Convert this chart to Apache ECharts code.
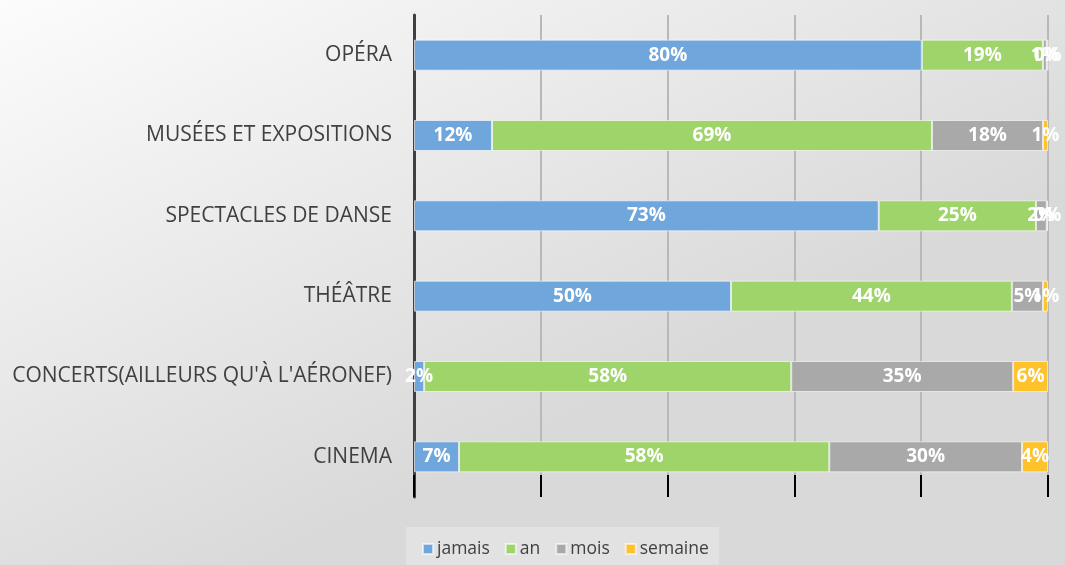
<!DOCTYPE html>
<html>
<head>
<meta charset="utf-8">
<script src="https://cdn.jsdelivr.net/npm/echarts@6/dist/echarts.min.js"></script>
<style>
html,body{margin:0;padding:0;}
#main{width:1065px;height:565px;}
</style>
</head>
<body>
<div id="main"></div>
<script>
// pratiques culturelles - part en % (du bas vers le haut)
var categories = ['CINEMA', "CONCERTS(AILLEURS QU'À L'AÉRONEF)", 'THÉÂTRE', 'SPECTACLES DE DANSE', 'MUSÉES ET EXPOSITIONS', 'OPÉRA'];
var jamais  = [7.1, 1.6, 50.0, 73.3, 12.3, 80.1];
var an      = [58.4, 57.9, 44.3, 24.8, 69.4, 19.1];
var mois    = [30.4, 35.0, 4.9, 1.7, 17.5, 0.6];
var semaine = [4.1, 5.5, 0.8, 0.2, 0.8, 0.3];
var seriesNames = ['jamais', 'an', 'mois', 'semaine'];
var colors = ['#6fa6db', '#9fd46a', '#a9a9a9', '#fec22b'];

var myChart = echarts.init(document.getElementById('main'));

function serie(name, data) {
    return {
        name: name,
        type: 'bar',
        stack: 'total',
        barWidth: 31,
        data: data,
        itemStyle: {borderColor: 'rgba(255,255,255,0.6)', borderWidth: 1},
        label: {
            show: true,
            position: 'inside',
            color: '#fff',
            fontSize: 19,
            fontWeight: 'bold',
            fontFamily: 'Open Sans',
            formatter: function (p) { return Math.round(p.value) + '%'; }
        }
    };
}

var option = {
    backgroundColor: {
        type: 'linear', x: 0, y: 0, x2: 0.25, y2: 1,
        colorStops: [{offset: 0, color: '#fcfcfc'}, {offset: 1, color: '#d9d9d9'}]
    },
    color: colors,
    grid: {left: 414, right: 17, top: 15, bottom: 68},
    legend: {
        data: seriesNames,
        left: 406,
        top: 527,
        padding: [13, 10, 14, 16],
        backgroundColor: 'rgba(255,255,255,0.25)',
        itemWidth: 10,
        itemHeight: 10,
        itemGap: 15,
        icon: 'rect',
        textStyle: {fontSize: 17.5, color: '#404040', fontFamily: 'Open Sans', padding: [0, 0, 0, -1]}
    },
    xAxis: {
        type: 'value',
        min: 0, max: 100, interval: 20,
        axisLine: {show: false},
        axisTick: {show: true, inside: true, length: 22, lineStyle: {color: '#000', width: 2}},
        axisLabel: {show: false},
        splitLine: {show: true, lineStyle: {color: '#b8b8b8', width: 2}}
    },
    yAxis: {
        type: 'category',
        data: categories,
        axisLine: {show: true, lineStyle: {color: '#404040', width: 3}},
        axisTick: {show: false},
        axisLabel: {fontSize: 21, color: '#404040', fontFamily: 'Open Sans', margin: 22}
    },
    series: [
        serie('jamais', jamais),
        serie('an', an),
        serie('mois', mois),
        serie('semaine', semaine)
    ]
};
myChart.setOption(option);
</script>
</body>
</html>
